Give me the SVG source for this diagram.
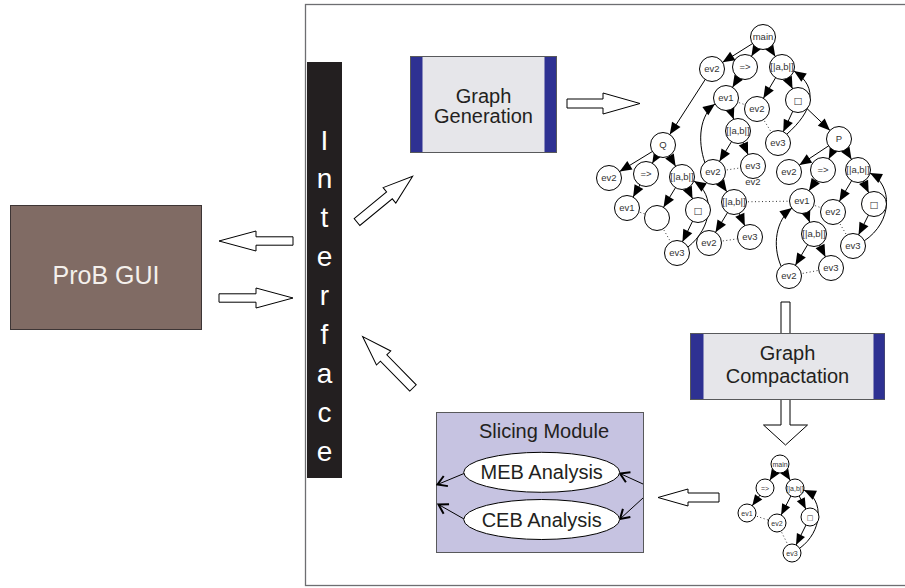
<svg xmlns="http://www.w3.org/2000/svg" width="905" height="588" viewBox="0 0 905 588">
<style>
text{font-family:"Liberation Sans",Arial,Helvetica,sans-serif}
.nd circle{fill:#fff;stroke:#000;stroke-width:1}
.nd text{font-size:9.5px;fill:#333;text-anchor:middle}
.sn circle{fill:#fff;stroke:#000;stroke-width:1}
.sn text{font-size:7px;fill:#333;text-anchor:middle}
.e{stroke:#000;stroke-width:1;fill:none;marker-end:url(#ah)}
.es{stroke:#000;stroke-width:1;fill:none;marker-end:url(#ahs)}
.c{stroke:#000;stroke-width:1;fill:none;marker-end:url(#ah0)}
.d{stroke:#333;stroke-width:1;stroke-dasharray:1 2.5;fill:none}
.ha{fill:#fff;stroke:#000;stroke-width:1}
.th{stroke:#000;stroke-width:1;fill:none;marker-end:url(#chev)}
.lbl{font-size:20px;fill:#231f20;text-anchor:middle}
.box{fill:#e6e6ea;stroke:#58595b;stroke-width:1}
.blue{fill:#2e3192}
.ifc{font-size:28px;fill:#fff;text-anchor:middle}
</style>
<defs>
<marker id="ah" viewBox="-13 -6 26 12" markerWidth="26" markerHeight="12" refX="12.5" refY="0" orient="auto" markerUnits="userSpaceOnUse">
<path d="M-12,-5 L0,0 L-12,5 Z" fill="#000"/>
</marker>
<marker id="ahs" viewBox="-13 -6 23 12" markerWidth="23" markerHeight="12" refX="9" refY="0" orient="auto" markerUnits="userSpaceOnUse">
<path d="M-11,-4.5 L0,0 L-11,4.5 Z" fill="#000"/>
</marker>
<marker id="ah0" viewBox="-13 -6 14 12" markerWidth="14" markerHeight="12" refX="0" refY="0" orient="auto" markerUnits="userSpaceOnUse">
<path d="M-12,-5 L0,0 L-12,5 Z" fill="#000"/>
</marker>
<marker id="chev" viewBox="-12 -7 14 14" markerWidth="14" markerHeight="14" refX="0" refY="0" orient="auto" markerUnits="userSpaceOnUse">
<path d="M-9,-5.5 L0,0 L-9,5.5" fill="none" stroke="#000" stroke-width="2"/>
</marker>
</defs>
<rect width="905" height="588" fill="#fff"/>
<!-- frame -->
<rect x="305.5" y="4.5" width="640" height="581" fill="none" stroke="#6d6e71" stroke-width="1.3"/>

<!-- big hollow arrows (connectors between modules) -->
<g id="module-arrows">
<path class="ha" transform="translate(293,241) rotate(180)" d="M0,-4.2 H37 V-10 L74,0 L37,10 V4.2 H0 Z"/>
<path class="ha" transform="translate(219,298)" d="M0,-4.2 H37 V-10 L74,0 L37,10 V4.2 H0 Z"/>
<path class="ha" transform="translate(357,222) rotate(-39.4)" d="M0,-4.5 H42 V-10 L72,0 L42,10 V4.5 H0 Z"/>
<path class="ha" transform="translate(413,388) rotate(-134.4)" d="M0,-4.5 H42 V-10 L72,0 L42,10 V4.5 H0 Z"/>
<path class="ha" transform="translate(567,103.5)" d="M0,-4.5 H36 V-10.5 L73,0 L36,10.5 V4.5 H0 Z"/>
<path class="ha" transform="translate(785.5,302) rotate(90)" d="M0,-4.5 H123 V-22 L143,0 L123,22 V4.5 H0 Z"/>
<path class="ha" transform="translate(719,497.5) rotate(180)" d="M0,-4.5 H31 V-8.5 L61,0 L31,8.5 V4.5 H0 Z"/>
</g>

<g id="prob-gui">
<rect x="10.5" y="205.5" width="191" height="124" fill="#806b64" stroke="#3d3535" stroke-width="1"/>
<text x="106" y="284" font-size="25" fill="#f4f0ec" text-anchor="middle">ProB GUI</text>
</g>

<g id="interface">
<rect x="307" y="62" width="35" height="416" fill="#231f20"/>
<text class="ifc" x="324.5" y="150">I</text>
<text class="ifc" x="324.5" y="188">n</text>
<text class="ifc" x="324.5" y="227">t</text>
<text class="ifc" x="324.5" y="266">e</text>
<text class="ifc" x="324.5" y="305">r</text>
<text class="ifc" x="324.5" y="344">f</text>
<text class="ifc" x="324.5" y="383">a</text>
<text class="ifc" x="324.5" y="422">c</text>
<text class="ifc" x="324.5" y="461">e</text>
</g>

<g id="graph-generation">
<rect class="box" x="410.5" y="56.5" width="146" height="96"/>
<rect class="blue" x="411" y="57" width="11.5" height="95"/>
<rect class="blue" x="544.5" y="57" width="11.5" height="95"/>
<text class="lbl" x="483.5" y="103" font-size="19">Graph</text>
<text class="lbl" x="483.5" y="123" font-size="19">Generation</text>
</g>

<g id="graph-compactation">
<rect class="box" x="690.5" y="333.5" width="194" height="66"/>
<rect class="blue" x="691" y="334" width="12.5" height="65"/>
<rect class="blue" x="873.5" y="334" width="11" height="65"/>
<text class="lbl" x="787.5" y="360">Graph</text>
<text class="lbl" x="787.5" y="383">Compactation</text>
</g>

<g id="slicing-module">
<rect x="436.5" y="412.5" width="207" height="140" fill="#c6c3e1" stroke="#58595b" stroke-width="1"/>
<text class="lbl" x="544" y="438">Slicing Module</text>
</g>
<g id="slicing-arrows">
<path class="th" d="M643,484 L620,473.5"/>
<path class="th" d="M643,498 L620,519"/>
<path class="th" d="M464,473.5 L437.5,484.5"/>
<path class="th" d="M464,519 L438.5,504.5"/>
</g>
<g id="meb">
<ellipse cx="541.7" cy="472.3" rx="78" ry="20" fill="#fff" stroke="#000" stroke-width="1"/>
<text class="lbl" x="541.7" y="479">MEB Analysis</text>
</g>
<g id="ceb">
<ellipse cx="541.7" cy="519.5" rx="78" ry="20" fill="#fff" stroke="#000" stroke-width="1"/>
<text class="lbl" x="541.7" y="526.5">CEB Analysis</text>
</g>

<!-- graph connectors -->
<g id="connectors">
<path class="e" d="M763,37 L712,69"/>
<path class="e" d="M763,37 L745,67"/>
<path class="e" d="M763,37 L782,67"/>
<path class="e" d="M745,67 L726,98"/>
<path class="e" d="M782,67 L757,109"/>
<path class="e" d="M782,67 L798,100"/>
<path class="e" d="M798,100 L778,143"/>
<path class="e" d="M798,100 L839,139"/>
<path class="e" d="M726,98 L738,131"/>
<path class="e" d="M712,69 L663,145"/>
<path class="e" d="M738,131 L713,172"/>
<path class="e" d="M738,131 L753,166"/>
<path class="e" d="M663,145 L609,178"/>
<path class="e" d="M663,145 L646,174"/>
<path class="e" d="M663,145 L682,177"/>
<path class="e" d="M646,174 L627,208"/>
<path class="e" d="M682,177 L657,218"/>
<path class="e" d="M682,177 L698,210"/>
<path class="e" d="M698,210 L677,253"/>
<path class="e" d="M713,172 L734,202"/>
<path class="e" d="M734,202 L709,243"/>
<path class="e" d="M734,202 L750,237"/>
<path class="e" d="M839,139 L789,172"/>
<path class="e" d="M839,139 L823,170"/>
<path class="e" d="M839,139 L858,170"/>
<path class="e" d="M823,170 L802,201"/>
<path class="e" d="M858,170 L833,212"/>
<path class="e" d="M858,170 L874,204"/>
<path class="e" d="M874,204 L853,246"/>
<path class="e" d="M802,201 L814,234"/>
<path class="e" d="M814,234 L789,276"/>
<path class="e" d="M814,234 L831,268"/>
<path class="c" d="M787,134 C812,112 820,88 794,71"/>
<path class="c" d="M705,163 C697,140 700,115 715,104"/>
<path class="c" d="M688,247 C712,228 716,195 694,181"/>
<path class="c" d="M864,241 C893,222 893,185 870,173"/>
<path class="c" d="M781,266 C772,245 776,220 792,208"/>
<path class="d" d="M726,98 L757,109"/>
<path class="d" d="M757,109 L778,143"/>
<path class="d" d="M713,172 L753,166"/>
<path class="d" d="M627,208 L657,218"/>
<path class="d" d="M657,218 L677,253"/>
<path class="d" d="M709,243 L750,237"/>
<path class="d" d="M734,202 L802,201"/>
<path class="d" d="M802,201 L833,212"/>
<path class="d" d="M833,212 L853,246"/>
<path class="d" d="M789,276 L831,268"/>
<path class="es" d="M780,464 L765,488"/>
<path class="es" d="M780,464 L795,488"/>
<path class="es" d="M765,488 L747,513"/>
<path class="es" d="M795,488 L777,523"/>
<path class="es" d="M795,488 L810,517"/>
<path class="es" d="M810,517 L792,553"/>
<path class="c" d="M800,548 C822,532 825,500 804,490"/>
<path class="d" d="M747,513 L777,523"/>
<path class="d" d="M777,523 L792,553"/>
</g>

<!-- big graph nodes -->
<g id="g-main" class="nd"><circle cx="763" cy="37" r="12.5"/><text x="763" y="40.4">main</text></g>
<g id="g-ev2a" class="nd"><circle cx="712" cy="69" r="12.5"/><text x="712" y="72.4">ev2</text></g>
<g id="g-seq1" class="nd"><circle cx="745" cy="67" r="12.5"/><text x="745" y="70.4">=&gt;</text></g>
<g id="g-par1" class="nd"><circle cx="782" cy="67" r="12.5"/><text x="782" y="70.4">[|a,b|]</text></g>
<g id="g-ev1a" class="nd"><circle cx="726" cy="98" r="12.5"/><text x="726" y="101.4">ev1</text></g>
<g id="g-ev2b" class="nd"><circle cx="757" cy="109" r="12.5"/><text x="757" y="112.4">ev2</text></g>
<g id="g-box1" class="nd"><circle cx="798" cy="100" r="12.5"/><text x="798" y="104" font-size="11px" fill="#222" style="font-family:'DejaVu Sans',sans-serif">□</text></g>
<g id="g-par2" class="nd"><circle cx="738" cy="131" r="12.5"/><text x="738" y="134.4">[|a,b|]</text></g>
<g id="g-ev3a" class="nd"><circle cx="778" cy="143" r="12.5"/><text x="778" y="146.4">ev3</text></g>
<g id="g-P" class="nd"><circle cx="839" cy="139" r="12.5"/><text x="839" y="142.4">P</text></g>
<g id="g-Q" class="nd"><circle cx="663" cy="145" r="12.5"/><text x="663" y="148.4">Q</text></g>
<g id="g-q-ev2" class="nd"><circle cx="609" cy="178" r="12.5"/><text x="609" y="181.4">ev2</text></g>
<g id="g-q-seq" class="nd"><circle cx="646" cy="174" r="12.5"/><text x="646" y="177.4">=&gt;</text></g>
<g id="g-q-par" class="nd"><circle cx="682" cy="177" r="12.5"/><text x="682" y="180.4">[|a,b|]</text></g>
<g id="g-q-ev1" class="nd"><circle cx="627" cy="208" r="12.5"/><text x="627" y="211.4">ev1</text></g>
<g id="g-q-empty" class="nd"><circle cx="657" cy="218" r="12.5"/></g>
<g id="g-q-box" class="nd"><circle cx="698" cy="210" r="12.5"/><text x="698" y="214" font-size="11px" fill="#222" style="font-family:'DejaVu Sans',sans-serif">□</text></g>
<g id="g-q-ev3" class="nd"><circle cx="677" cy="253" r="12.5"/><text x="677" y="256.4">ev3</text></g>
<g id="g-c-ev2" class="nd"><circle cx="713" cy="172" r="12.5"/><text x="713" y="175.4">ev2</text></g>
<g id="g-c-ev3" class="nd"><circle cx="753" cy="166" r="12.5"/><text x="753" y="169.4">ev3</text><text x="753" y="184.5">ev2</text></g>
<g id="g-c-par" class="nd"><circle cx="734" cy="202" r="12.5"/><text x="734" y="205.4">[|a,b|]</text></g>
<g id="g-c-ev2b" class="nd"><circle cx="709" cy="243" r="12.5"/><text x="709" y="246.4">ev2</text></g>
<g id="g-c-ev3b" class="nd"><circle cx="750" cy="237" r="12.5"/><text x="750" y="240.4">ev3</text></g>
<g id="g-p-ev2" class="nd"><circle cx="789" cy="172" r="12.5"/><text x="789" y="175.4">ev2</text></g>
<g id="g-p-seq" class="nd"><circle cx="823" cy="170" r="12.5"/><text x="823" y="173.4">=&gt;</text></g>
<g id="g-p-par" class="nd"><circle cx="858" cy="170" r="12.5"/><text x="858" y="173.4">[|a,b|]</text></g>
<g id="g-p-ev1" class="nd"><circle cx="802" cy="201" r="12.5"/><text x="802" y="204.4">ev1</text></g>
<g id="g-p-ev2b" class="nd"><circle cx="833" cy="212" r="12.5"/><text x="833" y="215.4">ev2</text></g>
<g id="g-p-box" class="nd"><circle cx="874" cy="204" r="12.5"/><text x="874" y="208" font-size="11px" fill="#222" style="font-family:'DejaVu Sans',sans-serif">□</text></g>
<g id="g-p-par2" class="nd"><circle cx="814" cy="234" r="12.5"/><text x="814" y="237.4">[|a,b|]</text></g>
<g id="g-p-ev3" class="nd"><circle cx="853" cy="246" r="12.5"/><text x="853" y="249.4">ev3</text></g>
<g id="g-p-ev2c" class="nd"><circle cx="789" cy="276" r="12.5"/><text x="789" y="279.4">ev2</text></g>
<g id="g-p-ev3b" class="nd"><circle cx="831" cy="268" r="12.5"/><text x="831" y="271.4">ev3</text></g>

<!-- compacted graph nodes -->
<g id="s-main" class="sn"><circle cx="780" cy="464" r="9"/><text x="780" y="466.5">main</text></g>
<g id="s-seq" class="sn"><circle cx="765" cy="488" r="9"/><text x="765" y="490.5">=&gt;</text></g>
<g id="s-par" class="sn"><circle cx="795" cy="488" r="9"/><text x="795" y="490.5">[|a,b|]</text></g>
<g id="s-ev1" class="sn"><circle cx="747" cy="513" r="9"/><text x="747" y="515.5">ev1</text></g>
<g id="s-ev2" class="sn"><circle cx="777" cy="523" r="9"/><text x="777" y="525.5">ev2</text></g>
<g id="s-box" class="sn"><circle cx="810" cy="517" r="9"/><text x="810" y="520" font-size="9px" fill="#222" style="font-family:'DejaVu Sans',sans-serif">□</text></g>
<g id="s-ev3" class="sn"><circle cx="792" cy="553" r="9"/><text x="792" y="555.5">ev3</text></g>
</svg>
